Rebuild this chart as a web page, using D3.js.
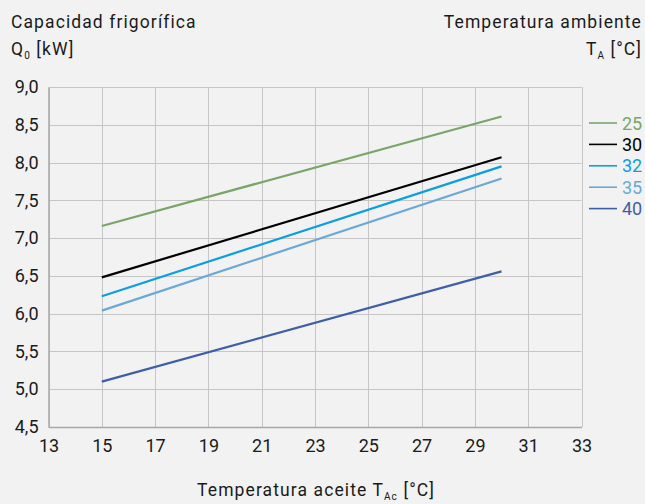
<!DOCTYPE html>
<html>
<head>
<meta charset="utf-8">
<script src="https://cdn.jsdelivr.net/npm/d3@7"></script>
<style>
  html, body { margin: 0; padding: 0; background: #f2f2f2; }
  svg { display: block; }
  text { font-family: Roboto, "Liberation Sans", sans-serif; fill: #1a1a1a; }
  .title { letter-spacing: 1.1px; }
</style>
</head>
<body>
<svg id="chart" width="645" height="504"></svg>
<script>
// Oil temperature (°C) at which each capacity curve is evaluated
const oilTemps = [15, 30];

// Ambient temperature series (°C) and their cooling capacity Q0 (kW)
const ambientLabels = ["25", "30", "32", "35", "40"];
const q25 = [7.16, 8.61];
const q30 = [6.48, 8.07];
const q32 = [6.23, 7.95];
const q35 = [6.04, 7.79];
const q40 = [5.10, 6.56];
const seriesColors = ["#79a668", "#000000", "#0c9ee0", "#6aa9d7", "#3e5fa8"];

const xTicks = [13, 15, 17, 19, 21, 23, 25, 27, 29, 31, 33];
const yTicks = [4.5, 5.0, 5.5, 6.0, 6.5, 7.0, 7.5, 8.0, 8.5, 9.0];

const series = [q25, q30, q32, q35, q40].map((vals, i) => ({
  label: ambientLabels[i],
  color: seriesColors[i],
  points: oilTemps.map((t, j) => ({ x: t, y: vals[j] }))
}));

const svg = d3.select("#chart");
const plot = { left: 48.5, right: 581.5, top: 87, bottom: 427 };

const x = d3.scaleLinear().domain([13, 33]).range([plot.left, plot.right]);
const y = d3.scaleLinear().domain([4.5, 9.0]).range([plot.bottom, plot.top]);

const fmt = d => d3.format(".1f")(d).replace(".", ",");

// Grid
const grid = svg.append("g");
grid.selectAll("line.v").data(xTicks).join("line")
  .attr("x1", d => Math.round(x(d)) + 0.5).attr("x2", d => Math.round(x(d)) + 0.5)
  .attr("y1", plot.top).attr("y2", plot.bottom)
  .attr("stroke", "#c6c6c6").attr("stroke-width", 1);
grid.selectAll("line.h").data(yTicks).join("line")
  .attr("x1", plot.left).attr("x2", plot.right)
  .attr("y1", d => Math.round(y(d)) + 0.5).attr("y2", d => Math.round(y(d)) + 0.5)
  .attr("stroke", "#c6c6c6").attr("stroke-width", 1);

// Axes
const xAxis = svg.append("g")
  .attr("transform", `translate(0,${plot.bottom})`)
  .call(d3.axisBottom(x).tickValues(xTicks).tickSize(0).tickPadding(12));
xAxis.select(".domain").attr("stroke", "#a8a8a8").attr("stroke-width", 1.5);
xAxis.selectAll("text").attr("font-size", 18).attr("fill", "#1a1a1a")
  .style("font-family", "Roboto, sans-serif");

const yAxis = svg.append("g")
  .attr("transform", `translate(${plot.left},0)`)
  .call(d3.axisLeft(y).tickValues(yTicks).tickFormat(fmt).tickSize(0).tickPadding(10));
yAxis.select(".domain").attr("stroke", "#a8a8a8").attr("stroke-width", 1.5);
yAxis.selectAll("text").attr("font-size", 18).attr("fill", "#1a1a1a")
  .style("font-family", "Roboto, sans-serif");

// Capacity curves
const line = d3.line().x(d => x(d.x)).y(d => y(d.y));
svg.append("g").selectAll("path").data(series).join("path")
  .attr("d", d => line(d.points))
  .attr("fill", "none")
  .attr("stroke", d => d.color)
  .attr("stroke-width", 2.2);

// Legend
const legend = svg.append("g").attr("transform", "translate(589,123)");
const rows = legend.selectAll("g").data(series).join("g")
  .attr("transform", (d, i) => `translate(0,${i * 21.4})`);
rows.append("line").attr("x1", 0).attr("x2", 28).attr("y1", 0).attr("y2", 0)
  .attr("stroke", d => d.color).attr("stroke-width", 1.6);
rows.append("text").attr("x", 33).attr("y", 6.5)
  .attr("font-size", 18).style("fill", d => d.color)
  .text(d => d.label);

// Titles
const t1 = svg.append("text").attr("class", "title").attr("x", 11).attr("y", 28).attr("font-size", 17.5);
t1.text("Capacidad frigorífica");
const t2 = svg.append("text").attr("class", "title").attr("x", 11).attr("y", 55).attr("font-size", 17.5);
t2.append("tspan").text("Q");
t2.append("tspan").attr("font-size", 10).attr("dy", 4).text("0");
t2.append("tspan").attr("dy", -4).text(" [kW]");

const t3 = svg.append("text").attr("class", "title").attr("x", 642).attr("y", 28).attr("font-size", 17.5)
  .attr("text-anchor", "end").text("Temperatura ambiente");
const t4 = svg.append("text").attr("class", "title").attr("x", 642).attr("y", 55).attr("font-size", 17.5)
  .attr("text-anchor", "end");
t4.append("tspan").text("T");
t4.append("tspan").attr("font-size", 10).attr("dy", 4).text("A");
t4.append("tspan").attr("dy", -4).text(" [°C]");

const t5 = svg.append("text").attr("class", "title").attr("x", 316).attr("y", 496).attr("font-size", 17.5)
  .attr("text-anchor", "middle");
t5.append("tspan").text("Temperatura aceite T");
t5.append("tspan").attr("font-size", 10).attr("dy", 3.5).text("Ac");
t5.append("tspan").attr("dy", -3.5).text(" [°C]");
</script>
</body>
</html>
